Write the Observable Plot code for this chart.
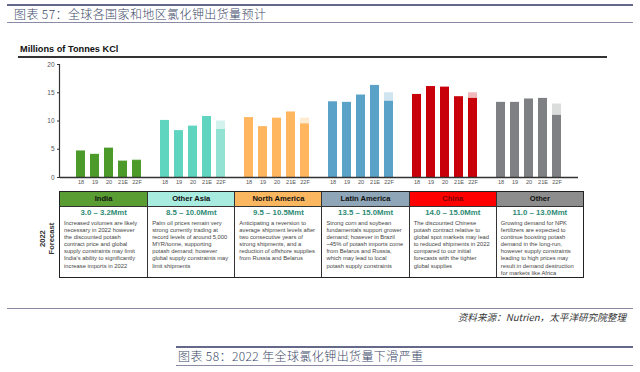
<!DOCTYPE html>
<html><head><meta charset="utf-8">
<script src="https://cdn.jsdelivr.net/npm/d3@7"></script>
<script src="https://cdn.jsdelivr.net/npm/@observablehq/plot@0.6"></script>
<style>
body{margin:0;background:#fff;}
#page{position:relative;width:640px;height:372px;overflow:hidden;background:#fff;font-family:"Liberation Sans",Arial,sans-serif;}
.abs{position:absolute;}
.cjk{font-family:"Noto Sans CJK SC",sans-serif;white-space:nowrap;}
#chart{position:absolute;left:0;top:58px;}
#table{position:absolute;left:59px;top:191px;width:525px;height:87px;box-sizing:border-box;border:1px solid #222;display:grid;grid-template-columns:repeat(6,1fr);}
.col{border-left:1px solid #333;box-sizing:border-box;overflow:hidden;}
.col:first-child{border-left:none;}
.hd{height:14px;line-height:14px;text-align:center;font-weight:bold;font-size:7.6px;border-bottom:1px solid #333;box-sizing:content-box;}
.rg{text-align:center;font-weight:bold;font-size:7.8px;line-height:11px;color:#2e8a74;}
.ds{font-size:5.8px;line-height:7.1px;color:#444;padding:2px 0 0 4px;white-space:nowrap;}
</style></head><body><div id="page"></div>
<script>
const title1 = "图表 57：全球各国家和地区氯化钾出货量预计";
const title2 = "图表 58：2022 年全球氯化钾出货量下滑严重";
const sourceNote = "资料来源：Nutrien，太平洋研究院整理";
const unitLabel = "Millions of Tonnes KCl";
const forecastLabel = ["2022", "Forecast"];

const groups = ["India", "Other Asia", "North America", "Latin America", "China", "Other"];
const years = ["18", "19", "20", "21E", "22F"];
const indiaValues = [4.7, 4.1, 5.2, 2.9, 3.0];
const otherAsiaValues = [10.1, 8.3, 9.1, 10.8, 8.5];
const northAmericaValues = [10.6, 9.0, 10.5, 11.6, 9.5];
const latinAmericaValues = [13.4, 13.3, 14.6, 16.3, 13.5];
const chinaValues = [14.7, 16.1, 16.0, 14.3, 14.0];
const otherValues = [13.3, 13.3, 13.9, 14.0, 11.0];
const forecastHigh = [3.2, 10.0, 10.5, 15.0, 15.0, 13.0];
const yTicks = [0, 5, 10, 15, 20];

const barColors = ["#4c9a2a", "#5fd5c0", "#ffb65e", "#5ba2c8", "#c8000a", "#7f8083"];
const forecastLowColors = ["#4c9a2a", "#92e2d3", "#ffb65e", "#5ba2c8", "#c8000a", "#7f8083"];
const headerColors = ["#5a9e33", "#a8ebdf", "#fbb660", "#8ea6b8", "#ff0000", "#8d8d8d"];
const headerTextColors = ["#111", "#111", "#111", "#111", "#7a0000", "#111"];

const forecastRanges = ["3.0 – 3.2Mmt", "8.5 – 10.0Mmt", "9.5 – 10.5Mmt", "13.5 – 15.0Mmt", "14.0 – 15.0Mmt", "11.0 – 13.0Mmt"];
const descriptions = [
  ["Increased volumes are likely", "necessary in 2022 however", "the discounted potash", "contract price and global", "supply constraints may limit", "India's ability to significantly", "increase imports in 2022"],
  ["Palm oil prices remain very", "strong currently trading at", "record levels of around 5,000", "MYR/tonne, supporting", "potash demand; however", "global supply constraints may", "limit shipments"],
  ["Anticipating a reversion to", "average shipment levels after", "two consecutive years of", "strong shipments, and a", "reduction of offshore supplies", "from Russia and Belarus"],
  ["Strong corn and soybean", "fundamentals support grower", "demand; however in Brazil", "~45% of potash imports come", "from Belarus and Russia,", "which may lead to local", "potash supply constraints"],
  ["The discounted Chinese", "potash contract relative to", "global spot markets may lead", "to reduced shipments in 2022", "compared to our initial", "forecasts with the tighter", "global supplies"],
  ["Growing demand for NPK", "fertilizers are expected to", "continue boosting potash", "demand in the long-run,", "however supply constraints", "leading to high prices may", "result in demand destruction", "for markets like Africa"]
];

const seriesValues = [indiaValues, otherAsiaValues, northAmericaValues, latinAmericaValues, chinaValues, otherValues];
const bars = [], ranges = [], domain = [], tickKeys = [];
groups.forEach((g, gi) => {
  years.forEach((yr, yi) => {
    const key = g + "|" + yr;
    domain.push(key); tickKeys.push(key);
    bars.push({key, value: seriesValues[gi][yi], color: yi === years.length - 1 ? forecastLowColors[gi] : barColors[gi]});
  });
  ranges.push({key: g + "|22F", low: seriesValues[gi][4], high: forecastHigh[gi], color: barColors[gi]});
  if (gi < groups.length - 1) domain.push("gap" + gi);
});

const page = document.getElementById("page");
function el(tag, cls, style, text) {
  const e = document.createElement(tag);
  if (cls) e.className = cls;
  if (style) e.style.cssText = style;
  if (text != null) e.textContent = text;
  page.appendChild(e);
  return e;
}
// header block
el("div", "abs", "left:7px;top:4px;width:626px;height:2px;background:#66688a;");
el("div", "abs cjk", "left:14px;top:6px;font-size:12px;line-height:16px;color:#3c4868;letter-spacing:0.4px;font-weight:300;", title1);
el("div", "abs", "left:7px;top:22px;width:626px;height:1px;background:#8a8aa6;");
el("div", "abs", "left:20px;top:44px;font-size:9.2px;font-weight:bold;line-height:11px;color:#111;white-space:nowrap;", unitLabel);
el("div", "abs", "left:18px;top:56px;width:589px;height:1.5px;background:#333;");

// chart
const yAxisLine = (index, scales, values, dims) => {
  const line = document.createElementNS("http://www.w3.org/2000/svg", "line");
  const x = dims.marginLeft - 0.5;
  line.setAttribute("x1", x); line.setAttribute("x2", x);
  line.setAttribute("y1", scales.y(yTicks[yTicks.length - 1]));
  line.setAttribute("y2", scales.y(0));
  line.setAttribute("stroke", "#333"); line.setAttribute("stroke-width", 1.2);
  return line;
};
const chart = Plot.plot({
  width: 640, height: 132,
  marginTop: 6, marginBottom: 13, marginLeft: 60, marginRight: 62,
  style: {fontFamily: "Liberation Sans, Arial, sans-serif", background: "transparent", overflow: "visible"},
  x: {type: "band", domain, paddingInner: 0.323, paddingOuter: 0.2, axis: null},
  y: {domain: [0, 20], axis: null},
  color: {type: "identity"},
  marks: [
    Plot.barY(ranges, {x: "key", y1: "low", y2: "high", fill: "color", fillOpacity: 0.28}),
    Plot.barY(bars, {x: "key", y: "value", fill: "color"}),
    Plot.axisY(yTicks, {tickSize: 3, tickPadding: 3, fontSize: 6.5, fill: "#555", stroke: "#333", label: null}),
    Plot.axisX(tickKeys, {tickSize: 0, tickPadding: 2.5, fontSize: 5.6, fill: "#555", label: null, tickFormat: d => d.split("|")[1]}),
    Plot.ruleY([0], {stroke: "#333", strokeWidth: 1.5}),
    yAxisLine
  ]
});
chart.id = "chart";
page.appendChild(chart);

// forecast label
el("div", "abs", "left:18px;top:230px;width:60px;text-align:center;font-weight:bold;font-size:7.6px;line-height:8.6px;color:#333;transform:rotate(-90deg);white-space:nowrap;").innerHTML = forecastLabel.join("<br>");

// table
const table = el("div", null, null);
table.id = "table";
groups.forEach((g, gi) => {
  const col = document.createElement("div");
  col.className = "col";
  const hd = document.createElement("div");
  hd.className = "hd"; hd.textContent = g;
  hd.style.background = headerColors[gi]; hd.style.color = headerTextColors[gi];
  const rg = document.createElement("div");
  rg.className = "rg"; rg.textContent = forecastRanges[gi];
  const ds = document.createElement("div");
  ds.className = "ds"; ds.innerHTML = descriptions[gi].map(s => s.replace(/&/g, "&amp;").replace(/</g, "&lt;")).join("<br>");
  col.append(hd, rg, ds);
  table.appendChild(col);
});

// footer
el("div", "abs", "left:7px;top:308px;width:626px;height:1px;background:#8a8aa6;");
el("div", "abs cjk", "right:14px;top:311px;font-size:9.6px;line-height:13px;color:#333;font-style:italic;", sourceNote);
el("div", "abs", "left:176px;top:346px;width:457px;height:2px;background:#66688a;");
el("div", "abs cjk", "left:178px;top:348px;font-size:12px;line-height:16px;color:#3c4868;letter-spacing:0.4px;font-weight:300;", title2);
el("div", "abs", "left:176px;top:365px;width:457px;height:1px;background:#8a8aa6;");
</script></body></html>
